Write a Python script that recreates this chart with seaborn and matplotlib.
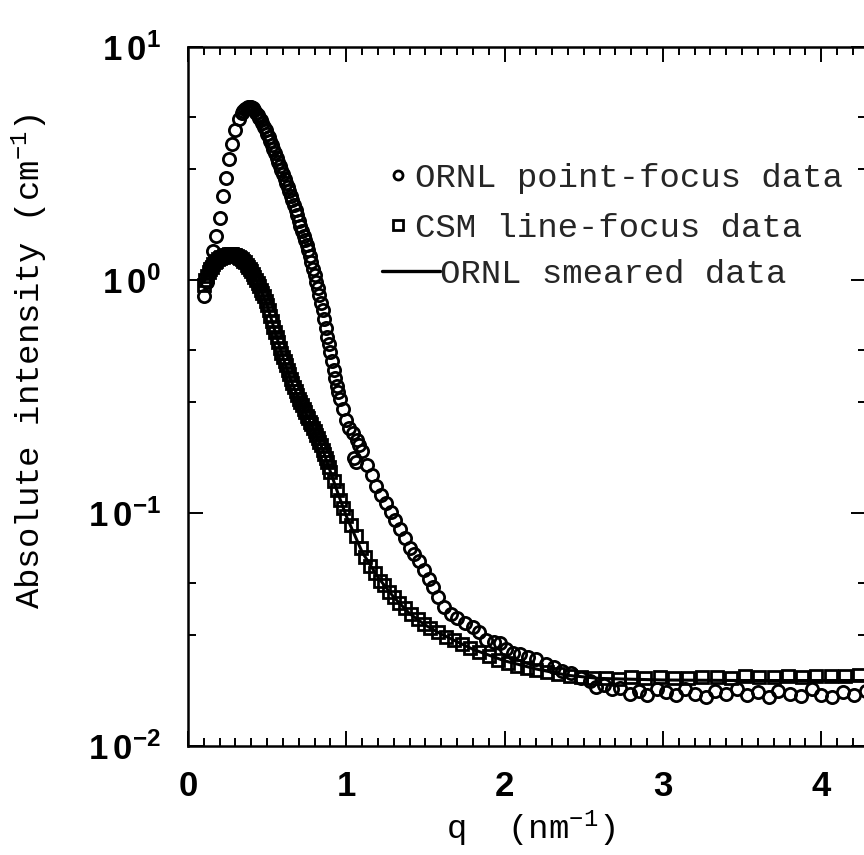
import matplotlib
matplotlib.use("Agg")
import matplotlib.pyplot as plt
import matplotlib.ticker as mticker
from matplotlib.lines import Line2D
import seaborn as sns
import pandas as pd

# ---------------- data ----------------
# ORNL point-focus data (circles)
ornl_q = [0.10, 0.12, 0.14, 0.16, 0.18, 0.20, 0.22, 0.24, 0.26, 0.28,
          0.30, 0.32, 0.34, 0.35, 0.36, 0.37, 0.38, 0.39, 0.40, 0.41,
          0.42, 0.43, 0.44, 0.45, 0.46, 0.47, 0.48, 0.49, 0.50, 0.51,
          0.52, 0.53, 0.54, 0.55, 0.56, 0.57, 0.58, 0.59, 0.60, 0.61,
          0.62, 0.63, 0.64, 0.65, 0.66, 0.67, 0.68, 0.69, 0.70, 0.71,
          0.72, 0.73, 0.74, 0.75, 0.76, 0.77, 0.78, 0.79, 0.80, 0.81,
          0.82, 0.83, 0.84, 0.85, 0.86, 0.87, 0.88, 0.89, 0.90, 0.91,
          0.92, 0.93, 0.94, 0.95, 0.96, 0.98, 1.00, 1.02, 1.04, 1.05,
          1.06, 1.07, 1.08, 1.10, 1.13, 1.16, 1.19, 1.22, 1.25, 1.28,
          1.31, 1.34, 1.37, 1.40, 1.43, 1.46, 1.49, 1.52, 1.55, 1.58,
          1.62, 1.66, 1.70, 1.75, 1.80, 1.84, 1.88, 1.93, 1.97, 2.01,
          2.05, 2.10, 2.15, 2.20, 2.26, 2.31, 2.36, 2.42, 2.48, 2.54,
          2.58, 2.63, 2.68, 2.73, 2.79, 2.85, 2.90, 2.96, 3.02, 3.08,
          3.14, 3.20, 3.27, 3.33, 3.40, 3.47, 3.53, 3.60, 3.67, 3.73,
          3.80, 3.87, 3.94, 4.00, 4.07, 4.14, 4.21, 4.28]
ornl_i = [0.85, 0.98, 1.15, 1.33, 1.55, 1.85, 2.30, 2.75, 3.30, 3.85,
          4.40, 4.90, 5.20, 5.30, 5.40, 5.45, 5.50, 5.52, 5.50, 5.45,
          5.35, 5.22, 5.10, 4.98, 4.85, 4.70, 4.55, 4.40, 4.25, 4.10,
          3.95, 3.80, 3.65, 3.50, 3.35, 3.22, 3.10, 2.97, 2.85, 2.72,
          2.60, 2.50, 2.40, 2.30, 2.20, 2.10, 2.00, 1.90, 1.80, 1.71,
          1.62, 1.55, 1.48, 1.41, 1.35, 1.27, 1.20, 1.12, 1.05, 0.98,
          0.92, 0.86, 0.80, 0.74, 0.68, 0.62, 0.57, 0.53, 0.49, 0.45,
          0.41, 0.38, 0.35, 0.33, 0.31, 0.28, 0.25, 0.232, 0.22, 0.172,
          0.165, 0.205, 0.195, 0.185, 0.160, 0.145, 0.130, 0.120, 0.110, 0.101,
          0.093, 0.085, 0.078, 0.071, 0.067, 0.062, 0.057, 0.052, 0.048, 0.0436,
          0.0395, 0.0370, 0.0355, 0.0338, 0.0325, 0.0310, 0.0285, 0.0280, 0.0276, 0.0260,
          0.0250, 0.0248, 0.0242, 0.0236, 0.0225, 0.0218, 0.0210, 0.0205, 0.0195, 0.0190,
          0.0179, 0.0182, 0.0175, 0.0178, 0.0168, 0.0172, 0.0165, 0.0175, 0.0170, 0.0166,
          0.0176, 0.0168, 0.0163, 0.0172, 0.0168, 0.0175, 0.0165, 0.0170, 0.0163, 0.0172,
          0.0168, 0.0164, 0.0175, 0.0166, 0.0162, 0.0170, 0.0166, 0.0172]

# CSM line-focus data (squares)
csm_q = [0.10, 0.11, 0.12, 0.13, 0.14, 0.15, 0.16, 0.17, 0.18, 0.19,
         0.20, 0.21, 0.22, 0.23, 0.24, 0.25, 0.26, 0.27, 0.28, 0.29,
         0.30, 0.31, 0.32, 0.33, 0.34, 0.35, 0.36, 0.37, 0.38, 0.39,
         0.40, 0.41, 0.42, 0.43, 0.44, 0.45, 0.46, 0.47, 0.48, 0.49,
         0.50, 0.51, 0.52, 0.53, 0.54, 0.55, 0.56, 0.57, 0.58, 0.59,
         0.60, 0.61, 0.62, 0.63, 0.64, 0.65, 0.66, 0.67, 0.68, 0.69,
         0.70, 0.71, 0.72, 0.73, 0.74, 0.75, 0.76, 0.77, 0.78, 0.79,
         0.80, 0.81, 0.82, 0.83, 0.84, 0.85, 0.86, 0.87, 0.88, 0.89,
         0.90, 0.92, 0.94, 0.96, 0.98, 1.00, 1.03, 1.06, 1.09, 1.12,
         1.15, 1.18, 1.21, 1.24, 1.27, 1.30, 1.33, 1.37, 1.41, 1.45,
         1.49, 1.53, 1.58, 1.63, 1.68, 1.73, 1.78, 1.84, 1.90, 1.96,
         2.02, 2.08, 2.14, 2.20, 2.27, 2.34, 2.41, 2.48, 2.56, 2.64,
         2.72, 2.80, 2.89, 2.98, 3.07, 3.16, 3.25, 3.34, 3.43, 3.52,
         3.61, 3.70, 3.79, 3.88, 3.97, 4.06, 4.15, 4.24, 4.33]
csm_i = [0.95, 1.00, 1.04, 1.08, 1.11, 1.14, 1.17, 1.19, 1.21, 1.23,
         1.24, 1.25, 1.26, 1.27, 1.28, 1.285, 1.29, 1.29, 1.29, 1.285,
         1.28, 1.27, 1.26, 1.245, 1.23, 1.21, 1.19, 1.165, 1.14, 1.115,
         1.09, 1.06, 1.03, 1.00, 0.97, 0.94, 0.91, 0.88, 0.85, 0.815,
         0.78, 0.74, 0.70, 0.665, 0.63, 0.60, 0.57, 0.54, 0.51, 0.487,
         0.465, 0.447, 0.43, 0.412, 0.395, 0.377, 0.36, 0.347, 0.335, 0.322,
         0.31, 0.30, 0.29, 0.28, 0.27, 0.262, 0.255, 0.247, 0.24, 0.232,
         0.225, 0.217, 0.21, 0.202, 0.195, 0.187, 0.18, 0.172, 0.165, 0.157,
         0.15, 0.137, 0.125, 0.114, 0.105, 0.097, 0.089, 0.080, 0.071, 0.065,
         0.059, 0.055, 0.051, 0.049, 0.046, 0.0435, 0.041, 0.039, 0.037, 0.035,
         0.0335, 0.032, 0.0307, 0.0295, 0.0284, 0.0274, 0.0264, 0.0252, 0.0243, 0.0235,
         0.0228, 0.0221, 0.0216, 0.0212, 0.0208, 0.0203, 0.0199, 0.0197, 0.0195, 0.0196,
         0.0194, 0.0197, 0.0196, 0.0198, 0.0196, 0.0195, 0.0198, 0.0197, 0.0196, 0.0199,
         0.0198, 0.0197, 0.0199, 0.0198, 0.0200, 0.0199, 0.0200, 0.0201, 0.0200]

# ORNL smeared data (solid line)
smear_q = [0.10, 0.15, 0.20, 0.25, 0.30, 0.35, 0.40, 0.45, 0.50, 0.55,
           0.60, 0.65, 0.70, 0.75, 0.80, 0.85, 0.90, 0.95, 1.00, 1.10,
           1.20, 1.30, 1.40, 1.50, 1.60, 1.80, 2.00, 2.20, 2.40, 2.60,
           3.00, 3.50, 4.00, 4.40]
smear_i = [0.98, 1.15, 1.24, 1.28, 1.28, 1.22, 1.09, 0.94, 0.78, 0.60,
           0.465, 0.37, 0.31, 0.263, 0.225, 0.188, 0.150, 0.120, 0.097, 0.068,
           0.053, 0.0435, 0.037, 0.033, 0.0302, 0.026, 0.0232, 0.0214, 0.0201, 0.0195,
           0.0192, 0.0191, 0.0191, 0.0191]

labels = ["ORNL point-focus data", "CSM line-focus data", "ORNL smeared data"]
x_ticks = [0, 1, 2, 3, 4]
y_ticks = [1e-2, 1e-1, 1e0, 1e1]
y_tick_labels = [r"$\mathregular{1\,0^{-2}}$", r"$\mathregular{1\,0^{-1}}$",
                 r"$\mathregular{1\,0^{0}}$", r"$\mathregular{1\,0^{1}}$"]

# ---------------- style ----------------
sns.set_theme(style="ticks")
plt.rcParams["font.family"] = ["Liberation Sans", "DejaVu Sans"]
plt.rcParams["mathtext.default"] = "regular"
MONO = ["Liberation Mono", "DejaVu Sans Mono"]
TXT = 24.5

fig = plt.figure(figsize=(8.64, 8.55), dpi=100)
ax = fig.add_axes([188 / 864, 109 / 855, 678 / 864, 699 / 855])

df_o = pd.DataFrame({"q": ornl_q, "I": ornl_i})
df_c = pd.DataFrame({"q": csm_q, "I": csm_i})
df_s = pd.DataFrame({"q": smear_q, "I": smear_i})

sns.lineplot(data=df_s, x="q", y="I", ax=ax, color="black", lw=2.2,
             sort=False, estimator=None)
sns.lineplot(data=df_c, x="q", y="I", ax=ax, linestyle="", marker="s",
             ms=8.2, mfc="none", mec="black", mew=2.0, color="black",
             sort=False, estimator=None)
sns.lineplot(data=df_o, x="q", y="I", ax=ax, linestyle="", marker="o",
             ms=8.8, mfc="none", mec="black", mew=2.0, color="black",
             sort=False, estimator=None)

ax.set_yscale("log")
ax.set_xlim(0, 4.283)
ax.set_ylim(1e-2, 1e1)

ax.set_xticks(x_ticks)
ax.set_xticklabels([str(v) for v in x_ticks])
ax.xaxis.set_minor_locator(mticker.MultipleLocator(0.1))
ax.set_yticks(y_ticks)
ax.set_yticklabels(y_tick_labels)
ax.yaxis.set_minor_locator(mticker.LogLocator(base=10, subs=[3.0, 5.0]))
ax.yaxis.set_minor_formatter(mticker.NullFormatter())

ax.tick_params(axis="both", which="both", direction="in", top=True, right=True,
               colors="black", width=1.4)
ax.tick_params(axis="x", which="major", length=11, pad=17, labelsize=25)
ax.tick_params(axis="x", which="minor", length=5.5)
ax.tick_params(axis="y", which="major", length=11, pad=19, labelsize=25)
ax.tick_params(axis="y", which="minor", length=6)
for lab in ax.get_xticklabels() + ax.get_yticklabels():
    lab.set_fontweight("bold")
for sp in ax.spines.values():
    sp.set_linewidth(1.8)
    sp.set_color("black")

ax.set_xlabel(r"q  (nm$^{-1}$)", family=MONO, fontsize=TXT, color="black")
ax.set_ylabel(r"Absolute intensity (cm$^{-1}$)", family=MONO, fontsize=TXT,
              color="black")
ax.xaxis.set_label_coords(0.505, -0.09)
ax.yaxis.set_label_coords(-0.204, 0.55)

# legends
h_o = Line2D([], [], linestyle="", marker="o", ms=6.5, mfc="none", mec="black", mew=2.0)
h_c = Line2D([], [], linestyle="", marker="s", ms=6.5, mfc="none", mec="black", mew=2.0)
h_s = Line2D([], [], color="black", lw=2.4)
leg1 = ax.legend([h_o, h_c], labels[:2], loc="upper left",
                 bbox_to_anchor=(0.297, 0.834), frameon=False, borderpad=0,
                 borderaxespad=0, handlelength=0.5, handletextpad=0.25,
                 labelspacing=0.55, prop={"family": MONO, "size": TXT})
ax.add_artist(leg1)
ax.legend([h_s], labels[2:], loc="upper left",
          bbox_to_anchor=(0.286, 0.697), frameon=False, borderpad=0,
          borderaxespad=0, handlelength=1.7, handletextpad=0.0,
          prop={"family": MONO, "size": TXT})

fig.savefig("out.png", dpi=100)
